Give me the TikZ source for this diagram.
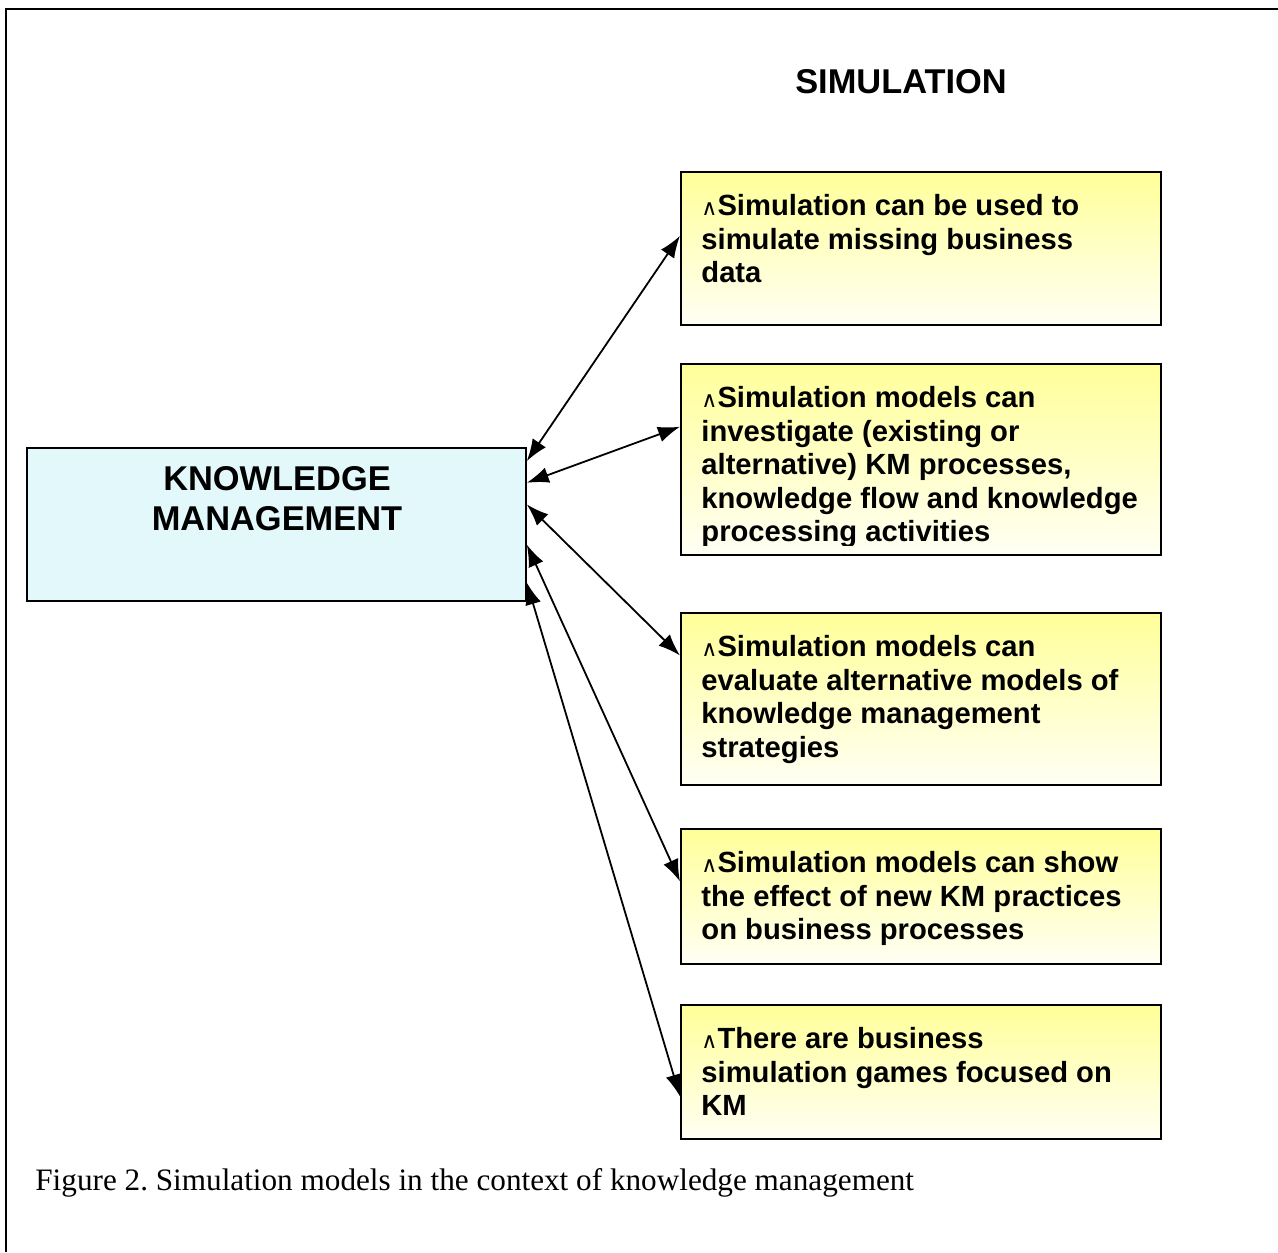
\documentclass[tikz,border=0pt]{standalone}
\usepackage{fontspec}
\setmainfont{Liberation Sans}
\newfontfamily\capfont{Liberation Serif}
\newfontfamily\symfont{DejaVu Sans}
\usetikzlibrary{arrows.meta,calc}
\definecolor{kmfill}{HTML}{E3F8FA}
\definecolor{ytop}{HTML}{FFFF99}
\definecolor{ybot}{HTML}{FFFFF4}
\newcommand{\wdg}{{\symfont\mdseries\fontsize{11}{11}\selectfont ∧}}
\begin{document}
\frenchspacing
\begin{tikzpicture}[x=0.5pt,y=-0.5pt,
  ybox/.style={draw=black, line width=1pt, top color=ytop, bottom color=ybot, rectangle, inner sep=0pt, minimum width=240pt},
  kmbox/.style={draw=black, line width=0.8pt, fill=kmfill, rectangle, inner sep=0pt},
  btext/.style={anchor=base west, align=left, inner sep=0pt, font=\fontsize{14.6}{16.8}\selectfont\bfseries},
  title/.style={inner sep=0pt, font=\fontsize{17.2}{20}\selectfont\bfseries},
  dbl/.style={{Latex[length=11pt,width=8pt]}-{Latex[length=11pt,width=8pt]}, line width=0.9pt}
]
\useasboundingbox (0,0) rectangle (1278,1252);
\draw[line width=1.3pt] (6,1252) -- (6,9) -- (1278,9);

\node[title, anchor=base] (sim) at (901,94) {SIMULATION};

\node[kmbox, minimum width=249.5pt, minimum height=76.5pt] (km) at (276.5,524.5) {};
% base anchor = baseline of last line
\node[title, anchor=base, align=center] (kmt) at (277,530) {KNOWLEDGE\\MANAGEMENT};

\node[ybox, minimum height=76.5pt] (b1) at (921,248.5) {};
\node[ybox, minimum height=95.5pt] (b2) at (921,459.5) {};
\node[ybox, minimum height=86pt] (b3) at (921,699) {};
\node[ybox, minimum height=67.5pt] (b4) at (921,896.5) {};
\node[ybox, minimum height=67pt] (b5) at (921,1072) {};

\node[btext] (t1) at (701,282.7) {\wdg Simulation can be used to\\simulate missing business\\data};
\begin{scope}
\clip (681,364) rectangle (1161,545);
\node[btext] (t2) at (701,541.9) {\wdg Simulation models can\\investigate (existing or\\alternative) KM processes,\\knowledge flow and knowledge\\processing activities};
\end{scope}
\node[btext] (t3) at (701,757.3) {\wdg Simulation models can\\evaluate alternative models of\\knowledge management\\strategies};
\node[btext] (t4) at (701,939.7) {\wdg Simulation models can show\\the effect of new KM practices\\on business processes};
\node[btext] (t5) at (701,1115.7) {\wdg There are business\\simulation games focused on\\KM};

\coordinate (k1) at ($(km.north east)!0.09!(km.south east)$);
\coordinate (k2) at ($(km.north east)!0.23!(km.south east)$);
\coordinate (k3) at ($(km.north east)!0.37!(km.south east)$);
\coordinate (k4) at ($(km.north east)!0.63!(km.south east)$);
\coordinate (k5) at ($(km.north east)!0.876!(km.south east)$);
\coordinate (s1) at ($(b1.north west)!0.418!(b1.south west)$);
\coordinate (s2) at ($(b2.north west)!0.33!(b2.south west)$);
\coordinate (s3) at ($(b3.north west)!0.25!(b3.south west)$);
\coordinate (s4) at ($(b4.north west)!0.39!(b4.south west)$);
\coordinate (s5) at ($(b5.north west)!0.68!(b5.south west)$);
\draw[dbl] (k1) -- (s1);
\draw[dbl] (k2) -- (s2);
\draw[dbl] (k3) -- (s3);
\draw[dbl] (k4) -- (s4);
\draw[dbl] (k5) -- (s5);

\node[anchor=base west, inner sep=0pt, font=\capfont\fontsize{15.6}{18}\selectfont] (cap) at (35,1190) {Figure 2. Simulation models in the context of knowledge management};
\end{tikzpicture}
\end{document}
